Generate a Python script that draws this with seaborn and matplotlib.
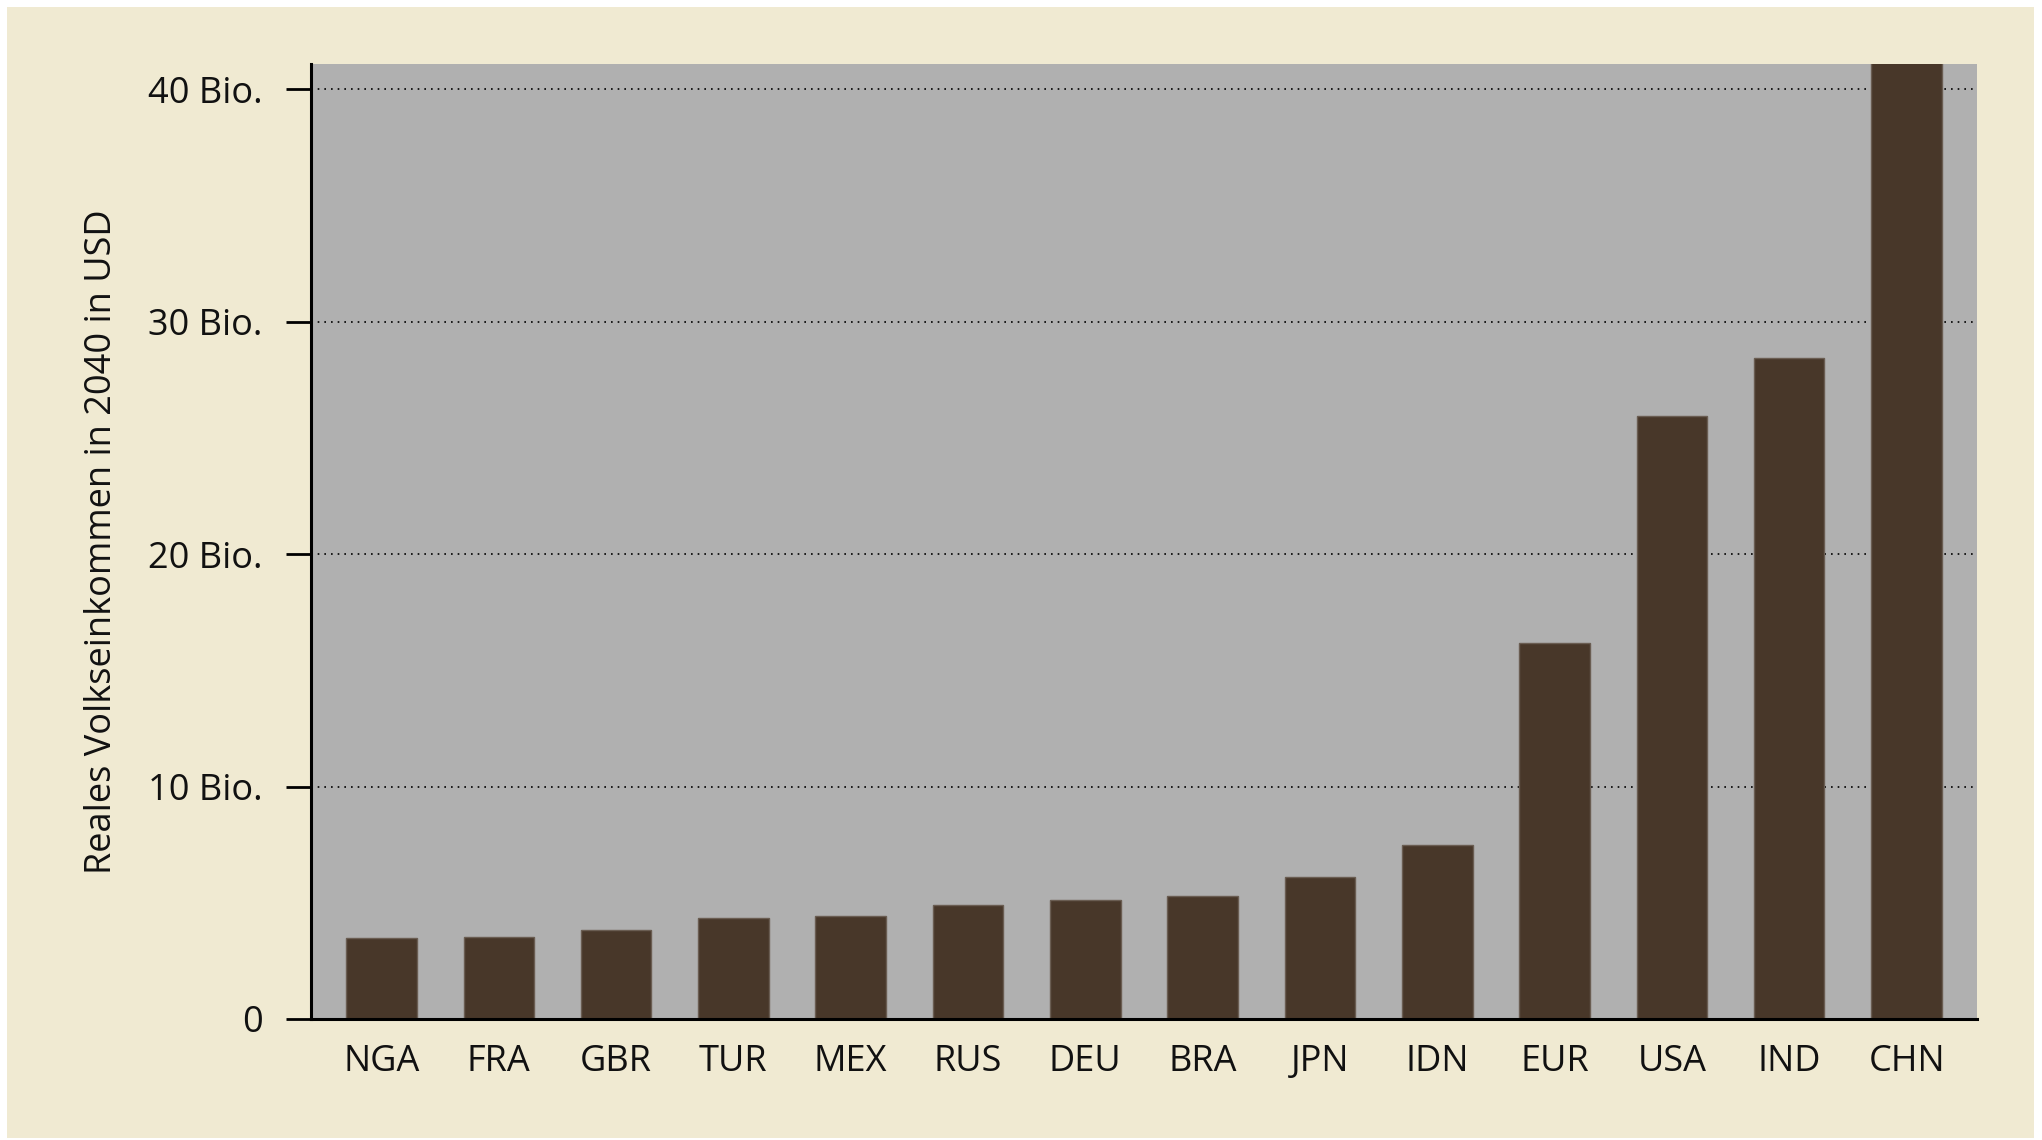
import matplotlib
matplotlib.use("Agg")
import matplotlib.pyplot as plt
import seaborn as sns
import pandas as pd
from matplotlib.patches import Rectangle

countries = ["NGA", "FRA", "GBR", "TUR", "MEX", "RUS", "DEU", "BRA", "JPN", "IDN", "EUR", "USA", "IND", "CHN"]
values = [3.48, 3.51, 3.83, 4.33, 4.43, 4.92, 5.10, 5.27, 6.11, 7.50, 16.17, 25.92, 28.43, 45.0]
ytick_vals = [0, 10, 20, 30, 40]
ytick_labels = ["0", "10 Bio.", "20 Bio.", "30 Bio.", "40 Bio."]
ylabel = "Reales Volkseinkommen in 2040 in USD"

beige = "#F0EAD2"
gray = "#B0B0B0"
bar_color = "#483729"

sns.set_theme(style="white")
plt.rcParams['font.family'] = ['Open Sans', 'DejaVu Sans']

df = pd.DataFrame({"country": countries, "value": values})

fig = plt.figure(figsize=(20.42, 11.40), dpi=100)
fig.patch.set_facecolor("white")
W, H = 2042, 1140
fig.patches.append(Rectangle((7 / W, 2 / H), (2034 - 7) / W, (1133 - 2) / H,
                             transform=fig.transFigure, facecolor=beige,
                             edgecolor="none", zorder=-10))

ax = fig.add_axes([311 / W, 1 - 1019 / H, (1977 - 311) / W, (1019 - 64) / H])
ax.set_zorder(1)
ax.set_facecolor(gray)

sns.barplot(data=df, x="country", y="value", color=bar_color, saturation=1,
            width=0.6, edgecolor="#6a5d52", linewidth=1.0, ax=ax, zorder=3)

ax.set_xlim(-0.6, len(countries) - 0.4)
ax.set_ylim(0, 41.08)
ax.set_yticks(ytick_vals)
ax.set_yticklabels(ytick_labels)
for y in ytick_vals[1:]:
    ax.axhline(y, color="black", linestyle=(0, (1, 3)), linewidth=1.2, zorder=2)

for s in ["top", "right"]:
    ax.spines[s].set_visible(False)
for s in ["left", "bottom"]:
    ax.spines[s].set_visible(True)
    ax.spines[s].set_color("black")
    ax.spines[s].set_linewidth(2.2)
    ax.spines[s].set_zorder(5)

ax.tick_params(axis="y", which="major", direction="out", length=18, width=2,
               color="black", left=True, labelsize=26, pad=17, labelcolor="#111111")
ax.tick_params(axis="x", which="major", length=0, labelsize=26, pad=18, labelcolor="#111111")
ax.set_xlabel("")
ax.set_ylabel(ylabel, fontsize=26, color="#111111", labelpad=20)
ax.grid(False)

fig.savefig("out.png", dpi=100, facecolor=fig.get_facecolor())
